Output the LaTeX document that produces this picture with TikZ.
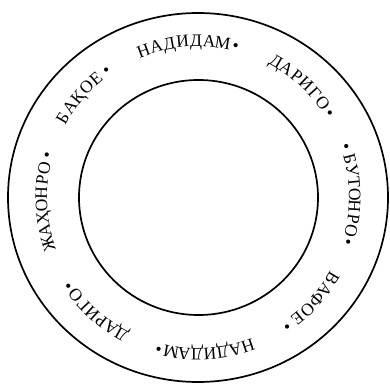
\documentclass[tikz,border=0pt]{standalone}
\usepackage{fontspec}
\setmainfont{Liberation Serif}

\begin{document}
\begin{tikzpicture}[x=1pt,y=1pt,
  ring/.style={line width=1.7pt},
  letter/.style={anchor=base,inner sep=0pt,font=\fontsize{17.5}{19}\selectfont}]
\useasboundingbox (-198,-187.5) rectangle (192,197.5);
\draw[ring] (0,0) ellipse [x radius=190,y radius=184.5];
\draw[ring] (0.5,0) ellipse [x radius=119.5,y radius=117.5];
% words round the ring, read clockwise
\foreach \mid/\stp/\n/\wrd [count=\w] in {
  93.2/4.9/8/{Н,А,Д,И,Д,А,М,•},
  46.4/4.57/7/{Д,А,Р,И,Г,О,•},
  1.1/4.43/9/{•,Б,У,Т,О,Н,Р,О,•},
  -43.25/4.86/6/{В,А,Ф,О,Е,•},
  -88/4.73/8/{Н,А,Д,И,Д,А,М,•},
  -132.5/4.4/7/{Д,А,Р,И,Г,О,•},
  180.7/4.66/8/{Ж,А,Ҳ,О,Н,Р,О,•},
  137.75/4.78/6/{Б,А,Қ,О,Е,•}}
{
  \foreach \ch [count=\i] in \wrd
    \node[letter,rotate={\mid+((\n+1)/2-\i)*\stp-90}] (w\w-\i)
      at ({\mid+((\n+1)/2-\i)*\stp}:151) {\ch};
}
\end{tikzpicture}
\end{document}
